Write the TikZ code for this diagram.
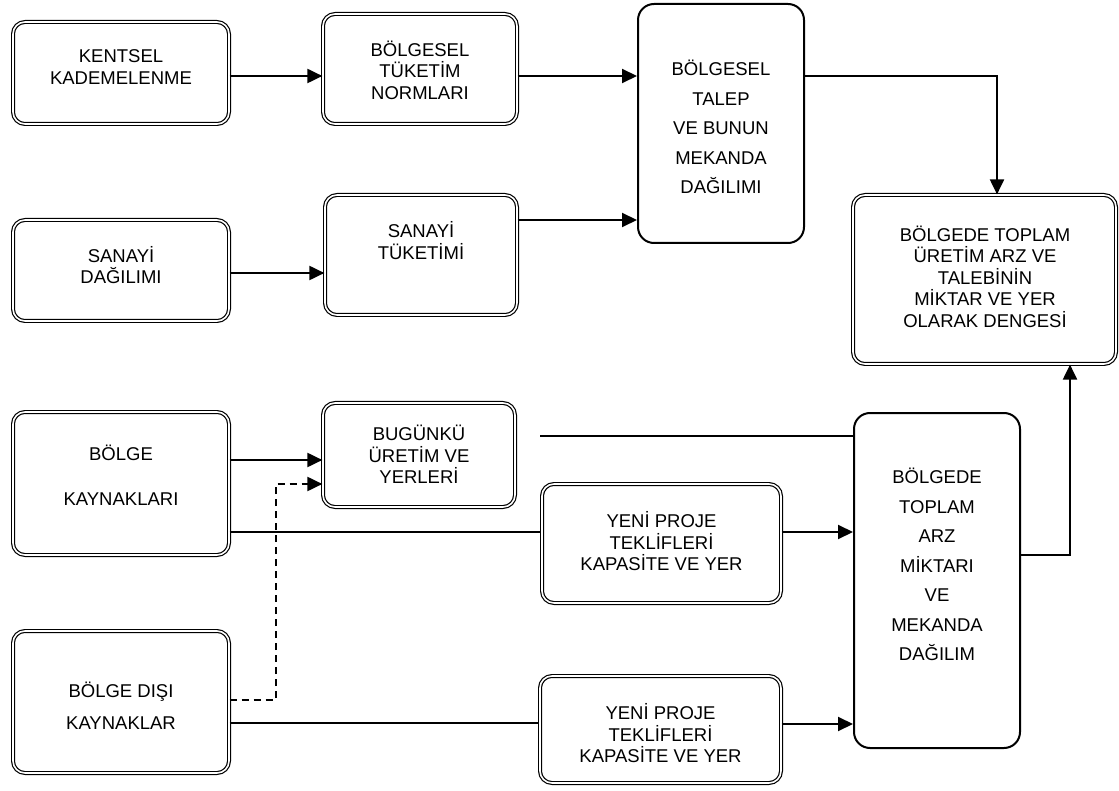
\documentclass[tikz,border=0pt]{standalone}
\usepackage{fontspec}
\setmainfont{Liberation Sans}
\usetikzlibrary{arrows.meta}

\begin{document}
\begin{tikzpicture}[x=1pt,y=-1pt,line width=2pt,
        >={Triangle[length=15pt,width=14pt]},
        dbox/.style={draw,double,double distance=1.6pt,line width=1.2pt,rounded corners=12pt,inner sep=0pt},
        sbox/.style={draw,line width=2pt,rounded corners=16pt,inner sep=0pt},
        lbl/.style={align=center,inner sep=0pt,font=\fontsize{18.5}{21.5}\selectfont}]
    \useasboundingbox (0,0) rectangle (1119,791);
    % boxes
    \node[dbox,minimum width=216,minimum height=102] (kentsel) at (121,73) {};
    \node[dbox,minimum width=194,minimum height=110] (normlar) at (420,69) {};
    \node[sbox,minimum width=166,minimum height=239] (talep) at (721,123.5) {};
    \node[dbox,minimum width=263,minimum height=169] (denge) at (984.5,279.5) {};
    \node[dbox,minimum width=216,minimum height=101] (sdagilim) at (121,270.5) {};
    \node[dbox,minimum width=192,minimum height=120] (stuketim) at (421,255) {};
    \node[dbox,minimum width=216,minimum height=143] (kaynak) at (121,483.5) {};
    \node[dbox,minimum width=192,minimum height=104] (bugun) at (419,455) {};
    \node[dbox,minimum width=216,minimum height=142] (diskaynak) at (121,702) {};
    \node[dbox,minimum width=239,minimum height=119] (proje1) at (661.5,543.5) {};
    \node[dbox,minimum width=241,minimum height=107] (proje2) at (660.5,729.5) {};
    \node[sbox,minimum width=166,minimum height=335] (arz) at (937,580.5) {};
    % texts
    \node[lbl] (kentselT) at (121,67) {KENTSEL\\KADEMELENME};
    \node[lbl] (normlarT) at (420,70) {BÖLGESEL\\TÜKETİM\\NORMLARI};
    \node[lbl] (talepT) at (721,127) {BÖLGESEL\\[8pt]TALEP\\[8pt]VE BUNUN\\[8pt]MEKANDA\\[8pt]DAĞILIMI};
    \node[lbl] (dengeT) at (985,276.5) {BÖLGEDE TOPLAM\\ÜRETİM ARZ VE\\TALEBİNİN\\MİKTAR VE YER\\OLARAK DENGESİ};
    \node[lbl] (sdagilimT) at (121,265) {SANAYİ\\DAĞILIMI};
    \node[lbl] (stuketimT) at (421,240.5) {SANAYİ\\TÜKETİMİ};
    \node[lbl] (kaynakT) at (121,475.5) {BÖLGE\\[23.5pt]KAYNAKLARI};
    \node[lbl] (bugunT) at (419,454.5) {BUGÜNKÜ\\ÜRETİM VE\\YERLERİ};
    \node[lbl] (diskaynakT) at (121,706) {BÖLGE DIŞI\\[10.5pt]KAYNAKLAR};
    \node[lbl] (proje1T) at (661.5,541.5) {YENİ PROJE\\TEKLİFLERİ\\KAPASİTE VE YER};
    \node[lbl] (proje2T) at (660.5,733.5) {YENİ PROJE\\TEKLİFLERİ\\KAPASİTE VE YER};
    \node[lbl] (arzT) at (937,564.5) {BÖLGEDE\\[8pt]TOPLAM\\[8pt]ARZ\\[8pt]MİKTARI\\[8pt]VE\\[8pt]MEKANDA\\[8pt]DAĞILIM};
    % connectors
    \draw[->] ([yshift=-3pt]kentsel.east) -- ([yshift=-3pt]kentsel.east -| normlar.west);
    \draw[->] ([yshift=-7pt]normlar.east) -- ([yshift=-7pt]normlar.east -| talep.west);
    \draw[->] ([yshift=-2.5pt]sdagilim.east) -- ([yshift=-2.5pt]sdagilim.east -| stuketim.west);
    \draw[->] ([yshift=35pt]stuketim.east) -- ([yshift=35pt]stuketim.east -| talep.west);
    \draw[->] ([yshift=47.5pt]talep.east) -| ([xshift=12.5pt]denge.north);
    \draw[->] ([yshift=23.5pt]kaynak.east) -- ([yshift=23.5pt]kaynak.east -| bugun.west);
    \draw[->,dash pattern=on 7pt off 5pt] ([yshift=2pt]diskaynak.east) -- ++(46,0) |- ([yshift=-29pt]bugun.west);
    \draw ([yshift=-48.5pt]kaynak.east) -- ([yshift=-48.5pt]kaynak.east -| proje1.west);
    \draw[->] ([yshift=11.5pt]proje1.east) -- ([yshift=11.5pt]proje1.east -| arz.west);
    % loose line above the first project box
    \coordinate (loose) at (540,436);
    \draw (loose) -- (loose -| arz.west);
    \draw ([yshift=-21pt]diskaynak.east) -- ([yshift=-21pt]diskaynak.east -| proje2.west);
    \draw[->] ([yshift=5.5pt]proje2.east) -- ([yshift=5.5pt]proje2.east -| arz.west);
    \draw[->] ([yshift=25.5pt]arz.east) -| ([xshift=85.5pt]denge.south);
\end{tikzpicture}
\end{document}
